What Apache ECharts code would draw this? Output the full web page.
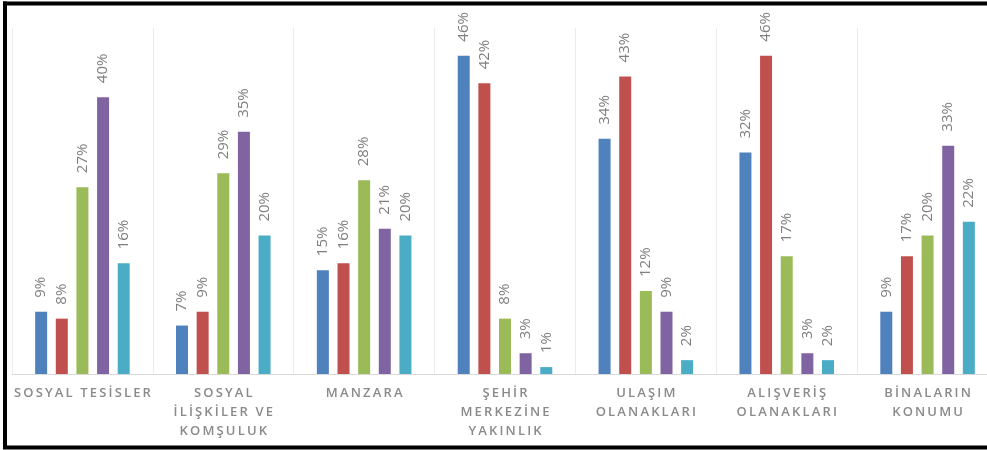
<!DOCTYPE html>
<html>
<head>
<meta charset="utf-8">
<style>
  html, body { margin: 0; padding: 0; background: #ffffff; overflow: hidden; }
  #chart { width: 1000px; height: 450px; }
</style>
<script src="https://cdn.jsdelivr.net/npm/echarts@6/dist/echarts.min.js"></script>
</head>
<body>
<div id="chart"></div>
<script>
// Category names (multi-line where the label wraps)
const categories = [
  'SOSYAL TESİSLER',
  'SOSYAL\nİLİŞKİLER VE\nKOMŞULUK',
  'MANZARA',
  'ŞEHİR\nMERKEZİNE\nYAKINLIK',
  'ULAŞIM\nOLANAKLARI',
  'ALIŞVERİŞ\nOLANAKLARI',
  'BİNALARIN\nKONUMU'
];

// Percentages per series, one value per category
const seriesBlue   = [9, 7, 15, 46, 34, 32, 9];
const seriesRed    = [8, 9, 16, 42, 43, 46, 17];
const seriesGreen  = [27, 29, 28, 8, 12, 17, 20];
const seriesPurple = [40, 35, 21, 3, 9, 3, 33];
const seriesCyan   = [16, 20, 20, 1, 2, 2, 22];

const seriesList = [
  { name: 'Seri 1', data: seriesBlue,   color: '#4F81BD' },
  { name: 'Seri 2', data: seriesRed,    color: '#C0504D' },
  { name: 'Seri 3', data: seriesGreen,  color: '#9BBB59' },
  { name: 'Seri 4', data: seriesPurple, color: '#8064A2' },
  { name: 'Seri 5', data: seriesCyan,   color: '#4BACC6' }
];

// Spread capital letters apart with thin spaces
function spaced(text) {
  return text.split('\n').map(line => line.split('').join('\u2009')).join('\n');
}

const chart = echarts.init(document.getElementById('chart'), null, { renderer: 'canvas' });

chart.setOption({
  animation: false,
  backgroundColor: '#ffffff',
  grid: { left: 12, top: 28, width: 986, height: 346, containLabel: false },
  xAxis: {
    type: 'category',
    data: categories,
    boundaryGap: true,
    axisLine: { show: true, lineStyle: { color: '#d9d9d9', width: 1 } },
    axisTick: { show: false },
    splitLine: { show: true, lineStyle: { color: '#ebebeb', width: 1 } },
    axisLabel: {
      interval: 0,
      margin: 10,
      color: '#8a8a8a',
      fontFamily: 'Open Sans',
      fontSize: 13,
      fontWeight: 600,
      lineHeight: 19,
      formatter: v => spaced(v)
    }
  },
  yAxis: {
    type: 'value',
    min: 0,
    max: 50,
    show: false,
    splitLine: { show: false }
  },
  series: seriesList.map(s => ({
    name: s.name,
    type: 'bar',
    data: s.data,
    barWidth: 12,
    barGap: '72%',
    itemStyle: { color: s.color },
    label: {
      show: true,
      position: 'top',
      distance: 14,
      rotate: 90,
      align: 'left',
      verticalAlign: 'middle',
      color: '#7f7f7f',
      fontFamily: 'Open Sans',
      fontSize: 15,
      formatter: p => p.value + '%'
    }
  })),
  graphic: [
    { type: 'line', shape: { x1: 3, y1: 3.5, x2: 1000, y2: 3.5 }, style: { stroke: '#000000', lineWidth: 4 } },
    { type: 'line', shape: { x1: 5, y1: 1.5, x2: 5, y2: 449 }, style: { stroke: '#000000', lineWidth: 4 } },
    { type: 'line', shape: { x1: 3, y1: 447.5, x2: 1000, y2: 447.5 }, style: { stroke: '#000000', lineWidth: 4 } }
  ]
});
</script>
</body>
</html>
